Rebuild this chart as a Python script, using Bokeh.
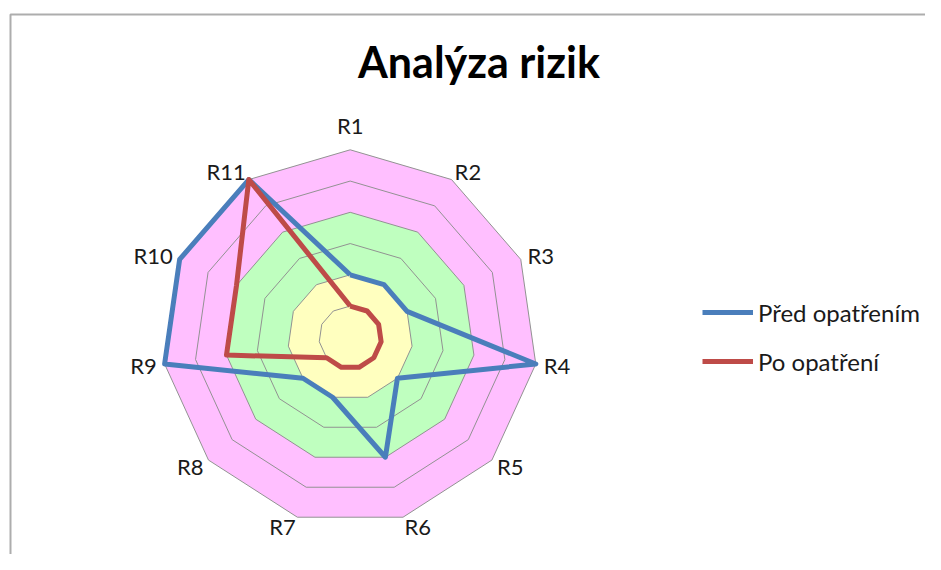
import math
from bokeh.plotting import figure
from bokeh.models import Range1d, Label, Legend, LegendItem, ColumnDataSource
from bokeh.core.properties import value
from bokeh.embed import file_html
from bokeh.resources import INLINE

# ---- data ----
categories = ["R1", "R2", "R3", "R4", "R5", "R6", "R7", "R8", "R9", "R10", "R11"]
pred_opatrenim = [2, 2, 2, 6, 2, 4, 2, 2, 6, 6, 6]
po_opatreni = [1, 1, 1, 1, 1, 1, 1, 1, 4, 4, 6]
series_names = ["Před opatřením", "Po opatření"]
ring_levels = [1, 2, 3, 4, 5, 6]
band_levels = [6, 4, 2]          # outer edge of each coloured band
band_colors = ["#ffbfff", "#bfffbf", "#ffffbf"]
title_text = "Analýza rizik"

# ---- layout ----
W, H = 925, 554
CX, CY = 349.7, 336.8           # radar centre (px in figure)
SCALE = 187.5 / 6               # px per unit
FONT = "Lato"

p = figure(width=W, height=H, output_backend="svg", toolbar_location=None,
           x_range=Range1d(0, W), y_range=Range1d(H, 0),
           min_border=0, outline_line_color=None)
p.axis.visible = False
p.grid.visible = False
p.background_fill_color = "white"
p.border_fill_color = "white"

n = len(categories)
angles = [2 * math.pi * i / n for i in range(n)]


def poly(vals):
    xs = [CX + v * SCALE * math.sin(a) for v, a in zip(vals, angles)]
    ys = [CY - v * SCALE * math.cos(a) for v, a in zip(vals, angles)]
    return xs, ys

# chart border
p.line([10, 10, W + 10], [H + 10, 14, 14], line_color="#adadad", line_width=2)

# bands
for lvl, col in zip(band_levels, band_colors):
    xs, ys = poly([lvl] * n)
    p.patch(xs, ys, fill_color=col, line_color=None)

# rings
for lvl in ring_levels:
    xs, ys = poly([lvl] * n)
    p.line(xs + xs[:1], ys + ys[:1], line_color="#929292", line_width=1)

# series
renderers = []
for vals, col in zip([pred_opatrenim, po_opatreni], ["#4a7ebb", "#be4b48"]):
    xs, ys = poly(vals)
    r = p.line(xs + xs[:1], ys + ys[:1], line_color=col, line_width=5,
               line_join="round")
    renderers.append(r)

# category labels, placed next to the outer vertices
vx, vy = poly([6] * n)
lx, ly, la = [], [], []
for a, x0, y0 in zip(angles, vx, vy):
    s, c = math.sin(a), math.cos(a)
    if abs(s) < 0.1:
        lx.append(x0); ly.append(y0 - 24); la.append("center")
        continue
    sg = 1 if s > 0 else -1
    la.append("left" if s > 0 else "right")
    lx.append(x0 + sg * (1 + 7 * s * s))
    ly.append(y0 - 10 * c)
src = ColumnDataSource(dict(x=lx, y=ly, t=categories, a=la))
p.text(x="x", y="y", text="t", source=src, text_align="a", text_baseline="middle",
       text_font=value(FONT), text_font_size="22px", text_color="#1a1a1a")

# title
p.add_layout(Label(x=478.5, y=61, text=title_text, text_align="center",
                   text_baseline="middle", text_font=FONT, text_font_size="43px",
                   text_font_style="bold", text_color="black"))

# legend
legend = Legend(items=[LegendItem(label=nm, renderers=[r])
                       for nm, r in zip(series_names, renderers)],
                location=(702, 178), glyph_width=51, glyph_height=30,
                label_height=30, spacing=19, padding=0, margin=0,
                label_standoff=5, border_line_color=None,
                background_fill_alpha=0, label_text_font=FONT,
                label_text_font_size="24px", label_text_color="#1a1a1a")
p.add_layout(legend)

open("out.html", "w").write(file_html(p, INLINE))
